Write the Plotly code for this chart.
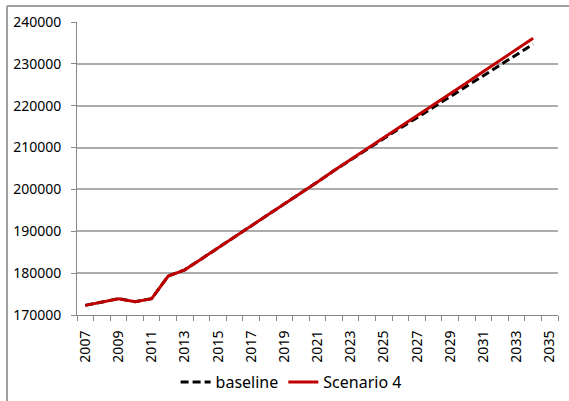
import plotly.graph_objects as go

years = list(range(2007, 2035))

scenario_4 = [172300, 173100, 173900, 173200, 173900, 179300, 180800, 183400,
              186000, 188700, 191300, 193900, 196600, 199200, 201800, 204500,
              207100, 209700, 212400, 215000, 217600, 220300, 222900, 225500,
              228200, 230800, 233400, 236100]

baseline = [172300, 173100, 173900, 173200, 173900, 179300, 180800, 183400,
            186000, 188700, 191300, 193900, 196600, 199200, 201800, 204500,
            207100, 209650, 212250, 214700, 217150, 219650, 222100, 224600,
            227150, 229600, 232100, 234700]

first_year, last_year = 2007, 2035
label_years = list(range(first_year, last_year + 1, 2))
boundaries = [y - 0.5 for y in range(first_year, last_year + 2)]

FONT = "Noto Sans"
GRID = "#ACACAC"
AXIS = "#888888"

fig = go.Figure()
fig.add_trace(go.Scatter(
    x=years, y=baseline, name="baseline", mode="lines",
    line=dict(color="#000000", width=3, dash="8px,4px"),
))
fig.add_trace(go.Scatter(
    x=years, y=scenario_4, name="Scenario 4", mode="lines",
    line=dict(color="#C00000", width=3),
))

fig.update_layout(
    width=569, height=401,
    margin=dict(l=77, r=11, t=22, b=86, autoexpand=False),
    paper_bgcolor="white", plot_bgcolor="white",
    font=dict(family=FONT, size=14, color="#000000"),
    showlegend=True,
    legend=dict(
        orientation="h", x=0.205, xanchor="left", y=-0.229, yanchor="middle",
        font=dict(family=FONT, size=16, color="#000000"),
        bgcolor="rgba(0,0,0,0)", itemwidth=30, tracegroupgap=0,
    ),
    xaxis=dict(
        range=[first_year - 0.5, last_year + 0.5],
        tickmode="array", tickvals=label_years,
        ticktext=[str(y) for y in label_years],
        ticks="", tickangle=-90, ticklabelstandoff=9,
        showgrid=False, zeroline=False, automargin=False,
        showline=True, linecolor=AXIS, linewidth=1,
        minor=dict(tickmode="array", tickvals=boundaries, ticks="outside",
                   ticklen=5, tickcolor=AXIS, tickwidth=1, showgrid=False),
        tickfont=dict(family=FONT, size=14),
    ),
    yaxis=dict(
        range=[170000, 240000], dtick=10000, tick0=170000,
        ticks="outside", ticklen=5, tickcolor=AXIS, tickwidth=1,
        ticklabelstandoff=7, automargin=False,
        showgrid=True, gridcolor=GRID, gridwidth=1.5, zeroline=False,
        showline=True, linecolor=AXIS, linewidth=1,
        tickformat="d",
        tickfont=dict(family=FONT, size=14),
    ),
)

# chart-area frame (left and top edges)
plot_w = 569 - 77 - 11
plot_h = 401 - 22 - 86
left_x = (7 - 77) / plot_w
top_y = (315 - 6) / plot_h
fig.add_shape(type="line", xref="paper", yref="paper",
              x0=left_x, x1=left_x, y0=top_y, y1=-1.0,
              line=dict(color="#A0A0A0", width=2))
fig.add_shape(type="line", xref="paper", yref="paper",
              x0=left_x, x1=1.2, y0=top_y, y1=top_y,
              line=dict(color="#A0A0A0", width=2))

fig.write_html("out.html")
